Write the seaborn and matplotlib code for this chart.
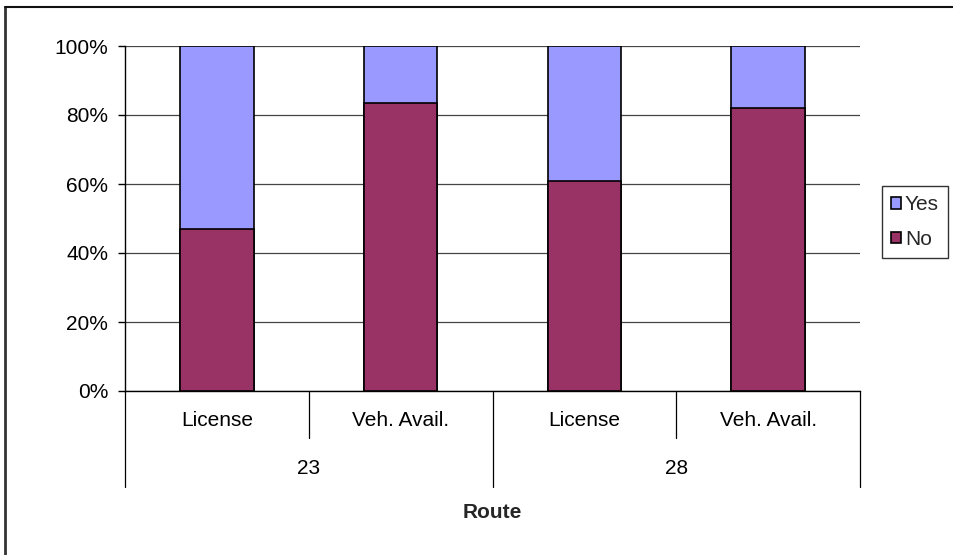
import matplotlib
matplotlib.use("Agg")
import matplotlib.pyplot as plt
import matplotlib.patches as mpatches
from matplotlib.lines import Line2D
import seaborn as sns
import pandas as pd

# Survey answers per route and question (share of respondents)
routes = ["23", "23", "28", "28"]
questions = ["License", "Veh. Avail.", "License", "Veh. Avail."]
share_no = [0.47, 0.835, 0.61, 0.82]
share_yes = [0.53, 0.165, 0.39, 0.18]
y_ticks = [0.0, 0.2, 0.4, 0.6, 0.8, 1.0]
y_tick_labels = ["0%", "20%", "40%", "60%", "80%", "100%"]
series_names = ["Yes", "No"]

COL_YES = "#9999FF"
COL_NO = "#993366"
FS = 15

sns.set_theme(style="white")
plt.rcParams["font.family"] = ["Liberation Sans", "DejaVu Sans"]

W, H = 954, 555
fig = plt.figure(figsize=(W / 100, H / 100), dpi=100)
ax = fig.add_axes([125 / W, 1 - 391 / H, (860 - 125) / W, (391 - 46) / H])

df = pd.DataFrame({
    "slot": [f"{r}|{q}|{i}" for i, (r, q) in enumerate(zip(routes, questions))],
    "total": [n + y for n, y in zip(share_no, share_yes)],
    "no": share_no,
})

# Stacked bars: the full height (No + Yes) underneath, No drawn over it
sns.barplot(data=df, x="slot", y="total", color=COL_YES, saturation=1,
            width=0.4, edgecolor="black", linewidth=1.2, ax=ax, zorder=3)
sns.barplot(data=df, x="slot", y="no", color=COL_NO, saturation=1,
            width=0.4, edgecolor="black", linewidth=1.2, ax=ax, zorder=4)

ax.set_xlim(-0.5, len(routes) - 0.5)
ax.set_ylim(0, 1)
ax.set_yticks(y_ticks)
ax.set_yticklabels(y_tick_labels, fontsize=FS)
ax.set_xticks([])
ax.set_xlabel("")
ax.set_ylabel("")
ax.tick_params(axis="y", direction="out", length=5, width=1, color="black",
               left=True, pad=7, labelcolor="black")
ax.yaxis.grid(True, color="#444444", linewidth=0.9, zorder=0)
ax.set_axisbelow(True)
for side in ["top", "right"]:
    ax.spines[side].set_visible(False)
for side in ["left", "bottom"]:
    ax.spines[side].set_color("black")
    ax.spines[side].set_linewidth(1)

# Two-level category axis: question labels, then route labels
trans = ax.get_xaxis_transform()
sub_y = -(421 - 391) / 345
grp_y = -(468 - 391) / 345
short_y = -(438 - 391) / 345
long_y = -(487 - 391) / 345

for i, q in enumerate(questions):
    ax.text(i, sub_y, q, transform=trans, ha="center", va="center",
            fontsize=FS, color="black")

group_starts = [0]
for i in range(1, len(routes)):
    if routes[i] != routes[i - 1]:
        group_starts.append(i)
group_bounds = group_starts + [len(routes)]
for a, b in zip(group_bounds[:-1], group_bounds[1:]):
    ax.text((a + b - 1) / 2, grp_y, routes[a], transform=trans,
            ha="center", va="center", fontsize=FS, color="black")

for i in range(len(routes) + 1):
    x = i - 0.5
    bottom = long_y if i in group_bounds else short_y
    ax.add_line(Line2D([x, x], [0, bottom], transform=trans, color="black",
                       linewidth=0.9, clip_on=False))

ax.text(0.5, -(513 - 391) / 345, "Route", transform=ax.transAxes,
        ha="center", va="center", fontsize=FS, fontweight="bold")

# Legend on the right
handles = [mpatches.Patch(facecolor=COL_YES, edgecolor="black", linewidth=1.2),
           mpatches.Patch(facecolor=COL_NO, edgecolor="black", linewidth=1.2)]
leg = fig.legend(handles, series_names, loc="upper left",
                 bbox_to_anchor=(882 / W, 1 - 186 / H), bbox_transform=fig.transFigure,
                 fontsize=FS, frameon=True, fancybox=False, borderaxespad=0,
                 handlelength=0.45, handleheight=0.45, handletextpad=0.2,
                 labelspacing=0.75, borderpad=0.45)
leg.get_frame().set_edgecolor("black")
leg.get_frame().set_linewidth(1)

# Chart-area frame
fig.add_artist(Line2D([5 / W, 5 / W], [0, 1 - 7 / H], transform=fig.transFigure,
                      color="#333333", linewidth=2))
fig.add_artist(Line2D([5 / W, 1], [1 - 7 / H, 1 - 7 / H], transform=fig.transFigure,
                      color="#111111", linewidth=1.5))

fig.savefig("out.png", dpi=100)
